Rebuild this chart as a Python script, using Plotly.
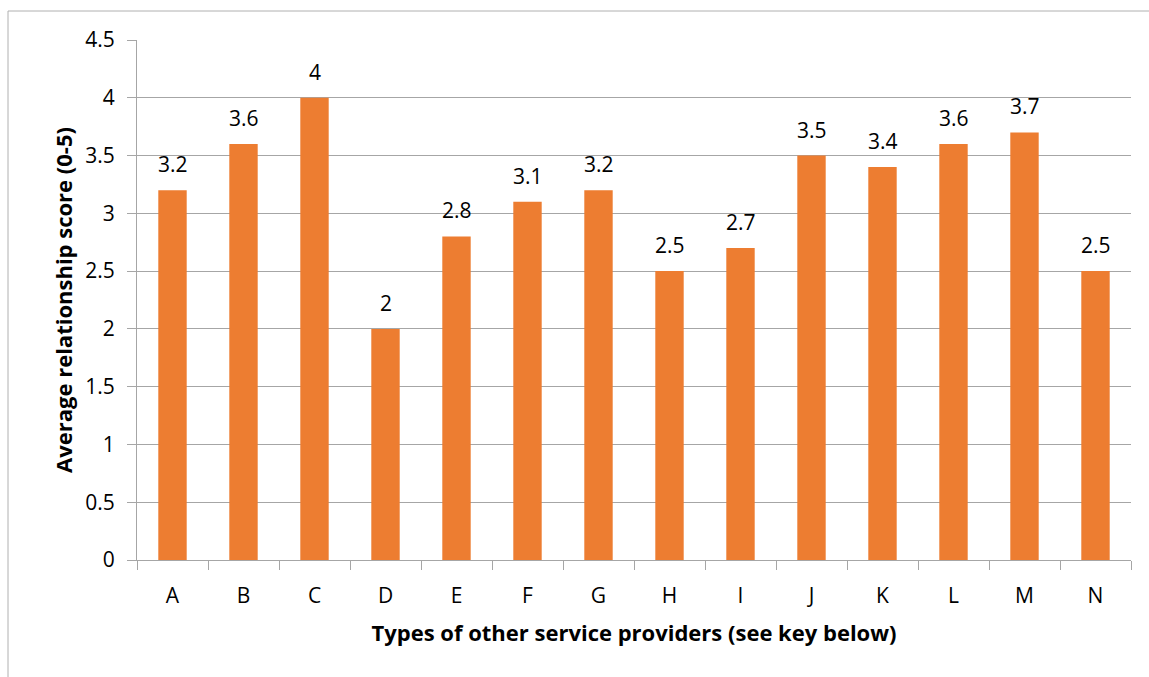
import plotly.graph_objects as go

categories = ["A", "B", "C", "D", "E", "F", "G", "H", "I", "J", "K", "L", "M", "N"]
scores = [3.2, 3.6, 4.0, 2.0, 2.8, 3.1, 3.2, 2.5, 2.7, 3.5, 3.4, 3.6, 3.7, 2.5]
y_ticks = [0, 0.5, 1, 1.5, 2, 2.5, 3, 3.5, 4, 4.5]
y_tick_text = ["0", "0.5", "1", "1.5", "2", "2.5", "3", "3.5", "4", "4.5"]

FONT = "Open Sans, Noto Sans, DejaVu Sans, sans-serif"
GRID = "#a6a6a6"

W, H = 1149, 677
ML, MR, MT, MB = 137, 18, 40, 117
pw, ph = W - ML - MR, H - MT - MB

fig = go.Figure(
    go.Bar(
        x=categories,
        y=scores,
        marker=dict(color="#ED7D31", line=dict(width=0)),
        width=0.4,
        hoverinfo="x+y",
    )
)

# value labels above each bar
for c, v in zip(categories, scores):
    fig.add_annotation(
        x=c, y=v, text=f"{v:g}", showarrow=False,
        yanchor="bottom", yshift=10,
        font=dict(family=FONT, size=21, color="#000000"),
    )

# outer chart frame
fig.add_shape(
    type="rect", xref="paper", yref="paper",
    x0=(8 - ML) / pw, x1=(W + 20 - ML) / pw,
    y0=-(MB + 20) / ph, y1=(H - MB - 11) / ph,
    line=dict(color="#b0b0b0", width=1), fillcolor="rgba(0,0,0,0)",
    layer="below",
)

fig.update_layout(
    width=W, height=H,
    margin=dict(l=ML, r=MR, t=MT, b=MB),
    plot_bgcolor="white", paper_bgcolor="white",
    showlegend=False,
    font=dict(family=FONT, size=21, color="#000000"),
    xaxis=dict(
        type="category",
        tickson="boundaries",
        ticks="outside", ticklen=9, tickcolor=GRID, tickwidth=1,
        showline=True, linecolor=GRID, linewidth=1,
        showgrid=False,
        tickfont=dict(family=FONT, size=21),
        ticklabelstandoff=17,
        title=dict(
            text="Types of other service providers (see key below)",
            font=dict(family=FONT, size=22, weight="bold"),
            standoff=17,
        ),
    ),
    yaxis=dict(
        range=[0, 4.5],
        tickvals=y_ticks, ticktext=y_tick_text,
        ticks="outside", ticklen=9, tickcolor=GRID, tickwidth=1,
        showline=True, linecolor=GRID, linewidth=1,
        showgrid=True, gridcolor=GRID, gridwidth=1,
        zeroline=False,
        tickfont=dict(family=FONT, size=21),
        ticklabelstandoff=8,
        title=dict(
            text="Average relationship score (0-5)",
            font=dict(family=FONT, size=22, weight="bold"),
            standoff=6,
        ),
    ),
)

fig.write_html("out.html")
